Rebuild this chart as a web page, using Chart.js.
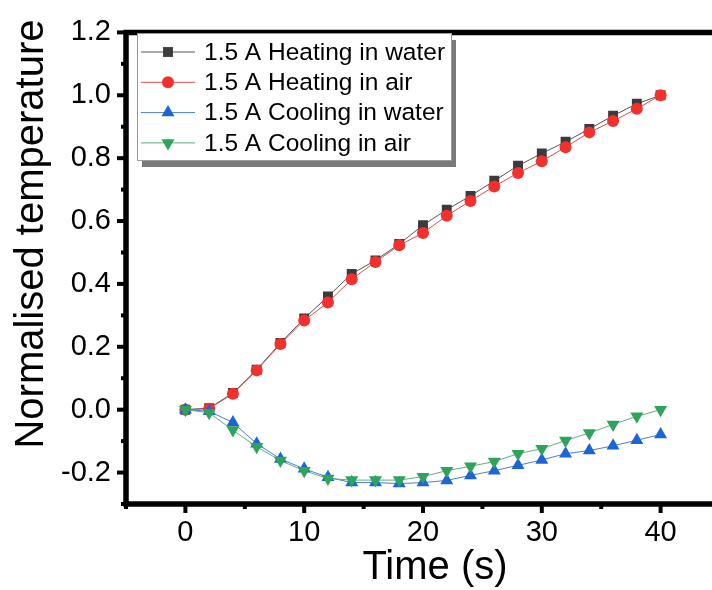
<!DOCTYPE html>
<html>
<head>
<meta charset="utf-8">
<title>Normalised temperature</title>
<script src="https://cdn.jsdelivr.net/npm/chart.js@4.4.0/dist/chart.umd.min.js"></script>
<style>
  html, body { margin: 0; padding: 0; background: #fff; overflow: hidden; }
  #wrap { width: 730px; height: 590px; }
</style>
</head>
<body>
<div id="wrap"><canvas id="tempChart" width="730" height="590"></canvas></div>
<script>
/* Normalised temperature vs time, 1.5 A heating / cooling runs */

// sample times (s)
const timeS = [0, 2, 4, 6, 8, 10, 12, 14, 16, 18, 20, 22, 24, 26, 28, 30, 32, 34, 36, 38, 40];

// normalised temperature for each run
const heatWater = [0, 0.005, 0.053, 0.127, 0.212, 0.29, 0.36, 0.432, 0.475, 0.527, 0.587,
                   0.636, 0.68, 0.728, 0.776, 0.815, 0.852, 0.893, 0.935, 0.973, 1.0];
const heatAir   = [0, 0.003, 0.051, 0.125, 0.209, 0.284, 0.341, 0.415, 0.47, 0.523, 0.562,
                   0.617, 0.664, 0.71, 0.753, 0.79, 0.835, 0.882, 0.918, 0.957, 1.0];
const coolWater = [0, -0.005, -0.041, -0.108, -0.157, -0.188, -0.215, -0.232, -0.232, -0.235, -0.232,
                   -0.225, -0.209, -0.194, -0.177, -0.16, -0.14, -0.13, -0.115, -0.097, -0.079];
const coolAir   = [0, -0.01, -0.065, -0.118, -0.162, -0.194, -0.219, -0.224, -0.224, -0.224, -0.213,
                   -0.194, -0.18, -0.165, -0.14, -0.124, -0.098, -0.074, -0.047, -0.021, 0.0];

const seriesNames = ['1.5 A Heating in water', '1.5 A Heating in air',
                     '1.5 A Cooling in water', '1.5 A Cooling in air'];

// axis ticks
const xTicks = [0, 10, 20, 30, 40];
const yTicks = [-0.2, 0.0, 0.2, 0.4, 0.6, 0.8, 1.0, 1.2];

const FONT = '"Liberation Sans", Arial, sans-serif';

function pts(ys) {
  return timeS.map((t, i) => ({ x: t, y: ys[i] }));
}

// styles per series (marker, colours)
const styles = [
  { pointStyle: 'rect',     rotation: 0,   radius: 7,   fill: '#3b3b3b', line: '#555555' },
  { pointStyle: 'circle',   rotation: 0,   radius: 6,   fill: '#f2312f', line: '#e24a4a' },
  { pointStyle: 'triangle', rotation: 0,   radius: 7.5, fill: '#1d64d9', line: '#4a7fcf' },
  { pointStyle: 'triangle', rotation: 180, radius: 7.5, fill: '#2ea35c', line: '#5fb080' }
];
const series = [heatWater, heatAir, coolWater, coolAir];

const datasets = series.map((ys, i) => ({
  label: seriesNames[i],
  data: pts(ys),
  showLine: true,
  borderColor: styles[i].line,
  borderWidth: 1,
  backgroundColor: styles[i].fill,
  pointBackgroundColor: styles[i].fill,
  pointBorderWidth: 0,
  pointStyle: styles[i].pointStyle,
  rotation: styles[i].rotation,
  pointRadius: styles[i].radius,
  pointHoverRadius: styles[i].radius,
  order: 4 - i   // later series sit on top
}));

// frame, thick axes and outward major/minor ticks
const framePlugin = {
  id: 'frame',
  afterDatasetsDraw(chart) {
    const { ctx, chartArea: a, scales } = chart;
    const xs = scales.x, ys = scales.y;
    ctx.save();
    ctx.strokeStyle = '#000';
    ctx.lineCap = 'butt';

    // minor + major ticks on y
    for (let v = -0.3; v <= 1.2001; v += 0.1) {
      const major = yTicks.some(t => Math.abs(t - v) < 1e-6);
      const y = ys.getPixelForValue(v);
      ctx.lineWidth = 4;
      ctx.beginPath();
      ctx.moveTo(a.left, y);
      ctx.lineTo(a.left - (major ? 9 : 5), y);
      ctx.stroke();
    }
    // minor + major ticks on x
    for (let v = -5; v <= 45; v += 5) {
      const major = xTicks.includes(v);
      const x = xs.getPixelForValue(v);
      ctx.lineWidth = 4;
      ctx.beginPath();
      ctx.moveTo(x, a.bottom);
      ctx.lineTo(x, a.bottom + (major ? 9 : 5));
      ctx.stroke();
    }

    ctx.lineWidth = 5.5;
    ctx.beginPath();
    ctx.moveTo(a.left, a.bottom + 2.5);
    ctx.lineTo(a.left, a.top);
    ctx.moveTo(a.left - 2.5, a.top);
    ctx.lineTo(a.right + 2.5, a.top);
    ctx.lineTo(a.right, a.bottom);
    ctx.moveTo(a.left - 2.5, a.bottom);
    ctx.lineTo(a.right + 2.5, a.bottom);
    ctx.stroke();

    // axis titles
    ctx.fillStyle = '#000';
    ctx.font = '40px ' + FONT;
    ctx.textAlign = 'center';
    ctx.textBaseline = 'middle';
    ctx.fillText('Time (s)', (a.left + a.right) / 2 + 12, 568);
    ctx.translate(32, 234);
    ctx.rotate(-Math.PI / 2);
    ctx.fillText('Normalised temperature', 0, 0);
    ctx.restore();
  }
};

// boxed legend with drop shadow, line + marker samples
const legendPlugin = {
  id: 'boxLegend',
  afterDraw(chart) {
    const { ctx } = chart;
    const bx = 137, by = 33, bw = 314, bh = 127;
    ctx.save();
    ctx.fillStyle = '#7a7a7a';
    ctx.fillRect(bx + 5, by + 7, bw, bh);
    ctx.fillStyle = '#fff';
    ctx.fillRect(bx, by, bw, bh);
    ctx.strokeStyle = '#9a9a9a';
    ctx.lineWidth = 1;
    ctx.strokeRect(bx + 0.5, by + 0.5, bw, bh);

    ctx.font = '24.5px ' + FONT;
    ctx.textAlign = 'left';
    ctx.textBaseline = 'middle';
    chart.data.datasets.forEach((ds, i) => {
      const y = by + 19 + i * 30.3;
      ctx.strokeStyle = ds.borderColor;
      ctx.lineWidth = 1;
      ctx.beginPath();
      ctx.moveTo(141, y);
      ctx.lineTo(195, y);
      ctx.stroke();
      ctx.fillStyle = ds.pointBackgroundColor;
      Chart.helpers.drawPoint(ctx, {
        pointStyle: ds.pointStyle,
        rotation: ds.rotation,
        radius: ds.pointRadius,
        borderWidth: 0
      }, 168, y);
      ctx.fillStyle = '#000';
      ctx.fillText(ds.label, 204, y + 1);
    });
    ctx.restore();
  }
};

new Chart(document.getElementById('tempChart'), {
  type: 'scatter',
  data: { datasets },
  options: {
    responsive: false,
    animation: false,
    events: [],
    layout: { padding: { top: 23, right: 10, left: 0, bottom: 0 } },
    plugins: {
      legend: { display: false },
      tooltip: { enabled: false }
    },
    scales: {
      x: {
        type: 'linear',
        min: -5,
        max: 45,
        afterBuildTicks: s => { s.ticks = xTicks.map(v => ({ value: v })); },
        afterFit: s => { s.height = 86; },
        grid: { display: false, drawTicks: false },
        border: { display: false },
        ticks: {
          padding: 12,
          color: '#000',
          font: { family: FONT, size: 29 },
          callback: v => String(v)
        }
      },
      y: {
        type: 'linear',
        min: -0.3,
        max: 1.2,
        afterBuildTicks: s => { s.ticks = yTicks.map(v => ({ value: v })); },
        afterFit: s => { s.width = 126; },
        grid: { display: false, drawTicks: false },
        border: { display: false },
        ticks: {
          padding: 15,
          color: '#000',
          font: { family: FONT, size: 29 },
          callback: v => v.toFixed(1)
        }
      }
    }
  },
  plugins: [framePlugin, legendPlugin]
});
</script>
</body>
</html>
